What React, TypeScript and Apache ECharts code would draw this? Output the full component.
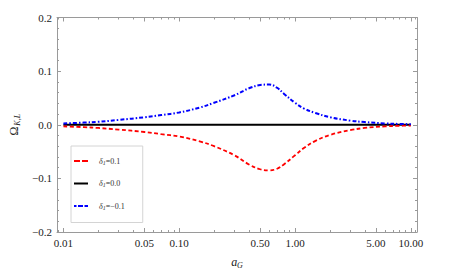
import React, { useEffect, useRef } from "react";
import * as echarts from "echarts";

const aG = [0.01, 0.015, 0.02, 0.03, 0.05, 0.07, 0.1, 0.15, 0.2, 0.3, 0.4, 0.5, 0.6, 0.7, 0.8, 1.0, 1.2, 1.5, 2, 3, 4, 6, 8, 10];
const deltaPos = [-0.003, -0.0045, -0.006, -0.009, -0.0135, -0.0175, -0.022, -0.031, -0.04, -0.057, -0.074, -0.083, -0.085, -0.082, -0.074, -0.057, -0.043, -0.03, -0.019, -0.0101, -0.006, -0.003, -0.002, -0.0015];
const deltaZero = [0, 0, 0, 0, 0, 0, 0, 0, 0, 0, 0, 0, 0, 0, 0, 0, 0, 0, 0, 0, 0, 0, 0, 0];
const deltaNeg = [0.0025, 0.004, 0.0055, 0.009, 0.014, 0.018, 0.023, 0.032, 0.041, 0.055, 0.068, 0.074, 0.075, 0.069, 0.058, 0.041, 0.03, 0.022, 0.014, 0.0077, 0.005, 0.0025, 0.0015, 0.001];

const xMajorTicks = [0.01, 0.05, 0.1, 0.5, 1, 5, 10];
const xMinorTicks = [0.009, 0.02, 0.03, 0.04, 0.06, 0.07, 0.08, 0.09, 0.2, 0.3, 0.4, 0.6, 0.7, 0.8, 0.9, 2, 3, 4, 6, 7, 8, 9, 11];
const xMin = 0.0088;
const xMax = 11.3;
const yTicks = [-0.2, -0.1, 0, 0.1, 0.2];

const seriesNames = ["{d|δ}{s|1}{t|=0.1}", "{d|δ}{s|1}{t|=0.0}", "{d|δ}{s|1}{t|=−0.1}"];
const legendIcons = [
  "path://M0,0h6v2h-6z M8,0h6v2h-6z",
  "path://M0,0h14v2h-14z",
  "path://M0,0h2.5v2h-2.5z M4,0h5v2h-5z M10.5,0h3.5v2h-3.5z",
];

const FONT = "Liberation Serif";
const FRAME = "#9a9a9a";

export default function App() {
  const ref = useRef<HTMLDivElement>(null);
  useEffect(() => {
    document.body.style.margin = "0";
    const chart = echarts.init(ref.current!, null, { renderer: "svg" });
    const lx = (v: number) => Math.log10(v);
    const xBase = {
      type: "value",
      min: lx(xMin),
      max: lx(xMax),
      splitLine: { show: false },
      axisLine: { show: true, onZero: false, lineStyle: { color: FRAME, width: 1 } },
    };
    const majorLabel = {
      show: true,
      customValues: xMajorTicks.map(lx),
      formatter: (v: number) => Math.pow(10, v).toFixed(2),
      fontFamily: FONT,
      fontSize: 11,
      color: "#222",
      margin: 5,
    };
    const xAxes: any[] = [
      {
        ...xBase,
        position: "bottom",
        axisTick: { show: true, inside: true, length: 4, customValues: xMajorTicks.map(lx), lineStyle: { color: FRAME } },
        axisLabel: majorLabel,
        name: "{a|a}{g|G}",
        nameLocation: "middle",
        nameGap: 23,
        nameTextStyle: {
          rich: {
            a: { fontFamily: FONT, fontStyle: "italic", fontSize: 12, color: "#222" },
            g: { fontFamily: FONT, fontStyle: "italic", fontSize: 8, color: "#222", padding: [6, 0, 0, 0] },
          },
        },
      },
      {
        ...xBase,
        position: "bottom",
        axisLine: { show: false, onZero: false },
        axisTick: { show: true, inside: true, length: 2, customValues: xMinorTicks.map(lx), lineStyle: { color: FRAME } },
        axisLabel: { show: false },
      },
      {
        ...xBase,
        position: "top",
        axisTick: { show: true, inside: true, length: 4, customValues: xMajorTicks.map(lx), lineStyle: { color: FRAME } },
        axisLabel: { show: false },
      },
      {
        ...xBase,
        position: "top",
        axisLine: { show: false, onZero: false },
        axisTick: { show: true, inside: true, length: 2, customValues: xMinorTicks.map(lx), lineStyle: { color: FRAME } },
        axisLabel: { show: false },
      },
    ];
    const yBase = {
      type: "value",
      min: yTicks[0],
      max: yTicks[yTicks.length - 1],
      interval: 0.1,
      splitLine: { show: false },
      axisLine: { show: true, onZero: false, lineStyle: { color: FRAME, width: 1 } },
      axisTick: { show: true, inside: true, length: 4, lineStyle: { color: FRAME } },
      minorTick: { show: true, splitNumber: 5, length: 2, lineStyle: { color: FRAME } },
    };
    const yAxes: any[] = [
      {
        ...yBase,
        position: "left",
        axisLabel: {
          formatter: (v: number) => (v < 0 ? "−" + Math.abs(v).toFixed(1) : v.toFixed(1)),
          fontFamily: FONT,
          fontSize: 11,
          color: "#222",
          margin: 5,
        },
        name: "{o|Ω}{s|K,L}",
        nameLocation: "middle",
        nameRotate: 90,
        nameGap: 36,
        nameTextStyle: {
          rich: {
            o: { fontFamily: FONT, fontSize: 12, color: "#222" },
            s: { fontFamily: FONT, fontStyle: "italic", fontSize: 8, color: "#222", padding: [6, 0, 0, 1] },
          },
        },
      },
      { ...yBase, position: "right", axisLabel: { show: false } },
    ];
    const mk = (vals: number[]) => aG.map((a, i) => [lx(a), vals[i]]);
    const colors = ["#ff0000", "#000000", "#0000ff"];
    chart.setOption({
      animation: false,
      grid: { left: 55.5, right: 38, top: 17.5, bottom: 40, containLabel: false },
      xAxis: xAxes,
      yAxis: yAxes,
      legend: {
        orient: "vertical",
        left: 71,
        top: 146,
        itemWidth: 14,
        itemHeight: 10,
        itemGap: 14,
        padding: [11, 18, 12, 3],
        borderColor: "#d4d4d4",
        borderWidth: 1,
        backgroundColor: "#fff",
        data: seriesNames.map((n, i) => ({ name: n, icon: legendIcons[i], itemStyle: { color: colors[i] } })),
        textStyle: {
          padding: [0, 0, 0, 6],
          rich: {
            d: { fontFamily: FONT, fontStyle: "italic", fontSize: 8, color: "#333" },
            s: { fontFamily: FONT, fontStyle: "italic", fontSize: 6, color: "#333", padding: [3, 0, 0, 0] },
            t: { fontFamily: FONT, fontSize: 8, color: "#333" },
          },
        },
      },
      series: [
        {
          name: seriesNames[0],
          type: "line",
          smooth: 0.4,
          symbol: "none",
          data: mk(deltaPos),
          lineStyle: { color: colors[0], width: 1.8, type: [4, 2.5] },
          itemStyle: { color: colors[0] },
          z: 3,
        },
        {
          name: seriesNames[1],
          type: "line",
          symbol: "none",
          data: mk(deltaZero),
          lineStyle: { color: colors[1], width: 2 },
          itemStyle: { color: colors[1] },
          z: 2,
        },
        {
          name: seriesNames[2],
          type: "line",
          smooth: 0.4,
          symbol: "none",
          data: mk(deltaNeg),
          lineStyle: { color: colors[2], width: 2, type: [4, 2, 1.5, 2] },
          itemStyle: { color: colors[2] },
          z: 3,
        },
      ],
    });
    return () => chart.dispose();
  }, []);
  return <div ref={ref} style={{ width: 455, height: 274 }} />;
}
